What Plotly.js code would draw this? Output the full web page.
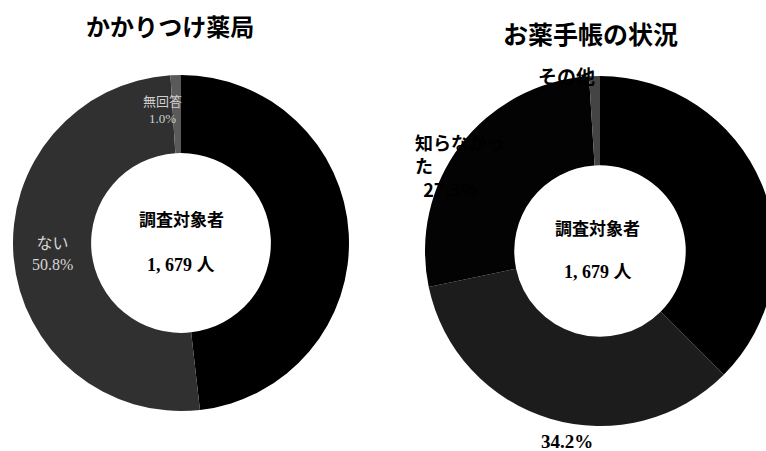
<!DOCTYPE html>
<html>
<head>
<meta charset="utf-8">
<script src="https://cdn.plot.ly/plotly-3.0.1.min.js"></script>
<style>
  html, body { margin: 0; padding: 0; overflow: hidden; background: #fff; }
</style>
</head>
<body>
<div id="grafico"></div>
<script>
// かかりつけ薬局
var labelsYakkyoku = ["ある", "ない", "無回答"];
var valoresYakkyoku = [48.2, 50.8, 1.0];
var coresYakkyoku = ["#000000", "#303030", "#5a5a5a"];

// お薬手帳の状況
var labelsTecho = ["持っている", "持っていない", "知らなかった", "その他"];
var valoresTecho = [37.5, 34.2, 27.3, 1.0];
var coresTecho = ["#000000", "#1c1c1c", "#030303", "#444444"];

var totalPessoas = "1, 679 人";

var W = 790;
var H = 451;

var fonteSerif = "Liberation Serif, Noto Sans CJK JP, serif";
var fonteGothic = "Noto Sans CJK JP, sans-serif";

function px(x) { return x / W; }
function py(y) { return 1 - y / H; }

function texto(t, x, y, tam, fam, cor, extra) {
  var a = {
    text: t, x: px(x), y: py(y), xref: "paper", yref: "paper",
    xanchor: "center", yanchor: "middle", showarrow: false,
    font: { family: fam, size: tam, color: cor },
  };
  if (extra) {
    for (var k in extra) a[k] = extra[k];
  }
  return a;
}

var trace1 = {
  type: "pie",
  labels: labelsYakkyoku,
  values: valoresYakkyoku,
  sort: false,
  direction: "clockwise",
  rotation: 0,
  hole: 0.535,
  marker: { colors: coresYakkyoku, line: { width: 0 } },
  textposition: ["none", "inside", "none"],
  texttemplate: ["", "%{label}<br>%{value:.1f}%", ""],
  insidetextorientation: "horizontal",
  insidetextfont: { family: fonteSerif, size: 16, color: "#d6d6d6" },
  domain: { x: [13 / W, 349 / W], y: [40 / H, 376 / H] },
  showlegend: false,
};

var trace2 = {
  type: "pie",
  labels: labelsTecho,
  values: valoresTecho,
  sort: false,
  direction: "clockwise",
  rotation: 0,
  hole: 0.49,
  marker: { colors: coresTecho, line: { width: 0 } },
  textinfo: "none",
  domain: { x: [425 / W, 775 / W], y: [25 / H, 375 / H] },
  showlegend: false,
};

var data = [trace1, trace2];

var layout = {
  width: W,
  height: H,
  margin: { l: 0, r: 0, t: 0, b: 0 },
  paper_bgcolor: "#ffffff",
  plot_bgcolor: "#ffffff",
  annotations: [
    texto("<b>かかりつけ薬局</b>", 170, 26, 24, fonteGothic, "#000"),
    texto("<b>お薬手帳の状況</b>", 590, 33, 25, fonteGothic, "#000"),
    texto("<b>調査対象者</b>", 181, 218, 17, fonteGothic, "#000"),
    texto("<b>" + totalPessoas + "</b>", 181, 265, 18, fonteSerif, "#000"),
    texto("<b>調査対象者</b>", 597, 227, 17, fonteGothic, "#000"),
    texto("<b>" + totalPessoas + "</b>", 598, 272, 18, fonteSerif, "#000"),
    texto(labelsYakkyoku[2] + "<br>" + valoresYakkyoku[2].toFixed(1) + "%", 162, 110, 13, fonteSerif, "#cfcfcf"),
    // rótulos externos do segundo gráfico (parte fica escondida pelo anel preto)
    texto("<b>" + labelsTecho[3] + "</b>", 566, 76, 19, fonteGothic, "#000"),
    texto("<b>知らなかっ<br>た<br>&nbsp;&nbsp;" + valoresTecho[2].toFixed(1) + "%</b>", 413, 165, 18, fonteGothic, "#000",
      { xanchor: "left", align: "left" }),
    texto("<b>" + valoresTecho[1].toFixed(1) + "%</b>", 567, 441, 19, fonteSerif, "#000"),
  ],
};

var config = { responsive: false, staticPlot: true };

Plotly.newPlot("grafico", data, layout, config);
</script>
</body>
</html>
